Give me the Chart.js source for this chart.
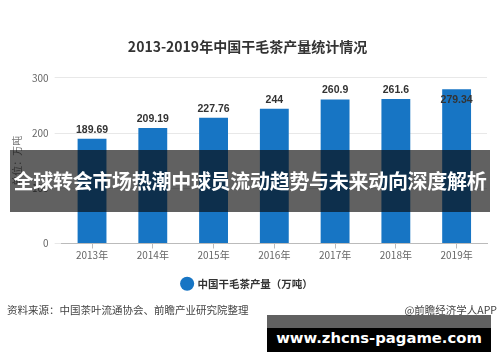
<!DOCTYPE html>
<html>
<head>
<meta charset="utf-8">
<script src="https://cdn.jsdelivr.net/npm/chart.js@4/dist/chart.umd.min.js"></script>
<style>
  html, body { margin: 0; padding: 0; background: #fff; }
  #wrap { position: relative; width: 500px; height: 362px; overflow: hidden; font-family: "Noto Sans CJK SC", sans-serif; }
  canvas { position: absolute; left: 0; top: 0; }
  .source { position: absolute; top: 302px; font-size: 10.5px; color: #444; white-space: nowrap; }
  .band { position: absolute; left: 10px; top: 150px; width: 480px; height: 62px; background: rgba(8, 8, 8, 0.64);
    color: #fff; font-weight: bold; font-size: 20px; line-height: 62px; text-align: center; white-space: nowrap; letter-spacing: -0.3px; }
  .url-top { position: absolute; left: 267px; top: 315px; width: 224px; height: 13px; background: rgba(8, 8, 8, 0.64); }
  .url { position: absolute; left: 267px; top: 328px; width: 224px; height: 24px; background: #000; color: #fff;
    font-family: "DejaVu Sans", sans-serif; font-weight: bold; font-size: 14.8px; line-height: 20px; text-align: center; }
</style>
</head>
<body>
<div id="wrap">
  <canvas id="chart" width="500" height="362"></canvas>
  <div class="source" style="left:7px">资料来源：中国茶叶流通协会、前瞻产业研究院整理</div>
  <div class="source" style="right:3px">@前瞻经济学人APP</div>
  <div class="band">全球转会市场热潮中球员流动趋势与未来动向深度解析</div>
  <div class="url-top"></div>
  <div class="url">www.zhcns-pagame.com</div>
</div>
<script>
const years = ['2013年', '2014年', '2015年', '2016年', '2017年', '2018年', '2019年']
const output = [189.69, 209.19, 227.76, 244, 260.9, 261.6, 279.34]
const yTicks = [0, 100, 200, 300]

const cjk = '"Noto Sans CJK SC", sans-serif'

// value labels above each bar (inside the bar when there is no room on top)
const valueLabels = {
  id: 'valueLabels',
  afterDatasetsDraw(chart) {
    const { ctx, chartArea } = chart
    const meta = chart.getDatasetMeta(0)
    ctx.save()
    ctx.font = 'bold 10.5px "Liberation Sans", Arial, sans-serif'
    ctx.fillStyle = '#333'
    ctx.textAlign = 'center'
    ctx.textBaseline = 'middle'
    meta.data.forEach((bar, i) => {
      let y = bar.y - 9
      if (y < chartArea.top + 5) y = bar.y + 11
      ctx.fillText(String(output[i]), bar.x, y)
    })
    ctx.restore()
  }
}

new Chart(document.getElementById('chart'), {
  type: 'bar',
  data: {
    labels: years,
    datasets: [{
      label: '中国干毛茶产量（万吨）',
      data: output,
      backgroundColor: '#1775c4',
      barPercentage: 0.95,
      categoryPercentage: 0.5,
    }],
  },
  options: {
    responsive: false,
    animation: false,
    layout: { padding: { left: 8, right: 13, top: 0, bottom: 63 } },
    scales: {
      x: {
        grid: { display: true, drawOnChartArea: false, offset: false, tickLength: 5, color: '#bbb' },
        border: { color: '#bbb' },
        ticks: { color: '#666', font: { family: cjk, size: 10 }, padding: 1 },
      },
      y: {
        min: 0,
        max: 300,
        afterBuildTicks: axis => { axis.ticks = yTicks.map(v => ({ value: v })) },
        grid: { color: '#e8e8e8', tickLength: 7 },
        border: { display: false },
        ticks: { color: '#666', font: { family: cjk, size: 10 }, padding: 6 },
        title: { display: true, text: '单位：万吨', color: '#777', font: { family: cjk, size: 10 }, padding: 3 },
      },
    },
    plugins: {
      title: {
        display: true,
        text: '2013-2019年中国干毛茶产量统计情况',
        color: '#333',
        font: { family: cjk, size: 14, weight: 'bold' },
        padding: { top: 38, bottom: 23 },
      },
      legend: {
        position: 'bottom',
        labels: {
          usePointStyle: true,
          pointStyle: 'circle',
          boxWidth: 10,
          boxHeight: 10,
          color: '#333',
          font: { family: cjk, size: 10.5, weight: 'bold' },
          padding: 16,
        },
      },
      tooltip: { enabled: false },
    },
  },
  plugins: [valueLabels],
})
</script>
</body>
</html>
